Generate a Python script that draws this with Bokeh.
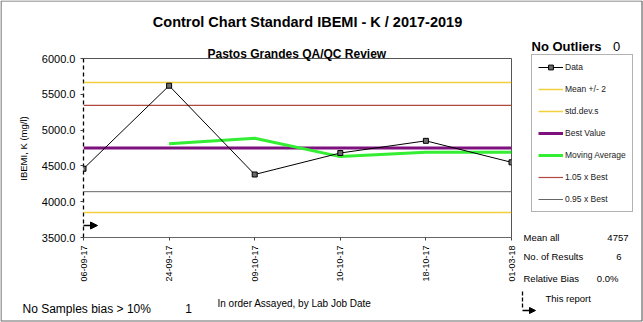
import math
import numpy as np
from bokeh.plotting import figure
from bokeh.models import (FixedTicker, NumeralTickFormatter, Label, Legend, LegendItem,
                          Arrow, NormalHead, Range1d)
from bokeh.embed import file_html
from bokeh.resources import INLINE

# ---------------- data ----------------
dates = ["06-09-17", "24-09-17", "09-10-17", "10-10-17", "18-10-17", "01-03-18"]
values = [4460, 5620, 4380, 4680, 4850, 4550]
moving_average = [np.nan, 4810, 4885, 4630, 4690, 4690]
best_value = 4750
upper_best_line = 5345   # "1.05 x Best" line as drawn
lower_best_line = 4140   # "0.95 x Best" line as drawn
y_ticks = [3500, 4000, 4500, 5000, 5500, 6000]
relative_bias = 0.0
outliers = 0
samples_bias_gt10 = 1

mean_all = float(np.mean(values))
sd = float(np.std(values, ddof=1))
upper_2sd = mean_all + 2 * sd
lower_2sd = mean_all - 2 * sd

xs = list(range(len(dates)))
x_span = [xs[0], xs[-1]]

FONT = "Liberation Sans"
W, H = 643, 322
FL, FR, FT, FB = 83, 511, 58, 237  # frame edges in canvas px

C_YEL = "#f2cf3c"
C_BRN = "#b0483e"
C_GRY = "#666666"
C_PUR = "#7d117d"
C_GRN = "#33ee33"
C_MRK = "#6a6a6a"

# ---------------- background canvas (texts, legend, frame decorations) ----------------
bg = figure(width=W, height=H, output_backend="svg", toolbar_location=None,
            x_range=Range1d(0, W), y_range=Range1d(H, 0), min_border=0,
            x_axis_location=None, y_axis_location=None)
bg.outline_line_color = None
bg.background_fill_color = "white"
bg.border_fill_color = "white"
bg.grid.visible = False

# outer border
bg.quad(left=[0.5], right=[W - 1.5], top=[0.5], bottom=[H - 1.5], fill_color=None,
        line_color="#666666", line_width=1.2)
# frame top / right edges
bg.segment(x0=[FL], y0=[FT], x1=[FR], y1=[FT], line_color="#555555", line_width=1)
bg.segment(x0=[FR], y0=[FT], x1=[FR], y1=[FB], line_color="#555555", line_width=1)
# left dashed "this report" marker
bg.segment(x0=[FL], y0=[FT], x1=[FL], y1=[FB], line_color="black", line_width=1.3,
           line_dash="4 3")
bg.add_layout(Arrow(x_start=FL, y_start=225, x_end=97, y_end=225, line_color="black",
                    line_width=1.3, end=NormalHead(size=7, fill_color="black",
                                                   line_color="black")))
# "this report" symbol in side panel
bg.segment(x0=[522], y0=[291], x1=[522], y1=[309], line_color="black", line_width=1.3,
           line_dash="4 2")
bg.add_layout(Arrow(x_start=522, y_start=310, x_end=535, y_end=310, line_color="black",
                    line_width=1.3, end=NormalHead(size=6, fill_color="black",
                                                   line_color="black")))

# legend proxies (styles only; no visible data)
nan2 = [np.nan, np.nan]
lp_dl = bg.line(nan2, nan2, line_color="black", line_width=1)
lp_dp = bg.scatter(nan2, nan2, marker="square", size=5, fill_color=C_MRK, line_color="black")
lp_up = bg.line(nan2, nan2, line_color=C_YEL, line_width=1.5)
lp_lo = bg.line(nan2, nan2, line_color=C_YEL, line_width=1.5)
lp_best = bg.line(nan2, nan2, line_color=C_PUR, line_width=3)
lp_ma = bg.line(nan2, nan2, line_color=C_GRN, line_width=3)
lp_105 = bg.line(nan2, nan2, line_color=C_BRN, line_width=1.2)
lp_095 = bg.line(nan2, nan2, line_color=C_GRY, line_width=1)
items = [
    LegendItem(label="Data", renderers=[lp_dl, lp_dp]),
    LegendItem(label="Mean +/- 2", renderers=[lp_up]),
    LegendItem(label="std.dev.s", renderers=[lp_lo]),
    LegendItem(label="Best Value", renderers=[lp_best]),
    LegendItem(label="Moving Average", renderers=[lp_ma]),
    LegendItem(label="1.05 x Best", renderers=[lp_105]),
    LegendItem(label="0.95 x Best", renderers=[lp_095]),
]
leg = Legend(items=items, location=(531, H - 212), orientation="vertical",
             label_text_font=FONT, label_text_font_size="8.5px", label_text_color="#222222",
             glyph_width=25, glyph_height=12, label_height=12, spacing=10, padding=6,
             margin=0, label_standoff=2, border_line_color="#666666", border_line_width=1,
             background_fill_color="white", background_fill_alpha=1.0)
bg.add_layout(leg, "center")


def lab(text, X, Y, size, bold=False, align="left", angle=0.0, color="black"):
    bg.add_layout(Label(x=X, y=H - Y, x_units="screen", y_units="screen", text=text,
                        text_font=FONT, text_font_size=size,
                        text_font_style="bold" if bold else "normal",
                        text_align=align, text_baseline="middle", angle=angle,
                        text_color=color))


lab("Control Chart Standard IBEMI - K / 2017-2019", 307, 21, "14.5px", bold=True, align="center")
lab("Pastos Grandes  QA/QC Review", 298, 53, "12px", bold=True, align="center")
lab("No Outliers", 531, 46, "13px", bold=True)
lab(f"{outliers}", 616, 46, "13px", align="center")
lab("IBEMI, K (mg/l)", 23, 148, "9.5px", align="center", angle=math.pi / 2)
lab("No Samples bias > 10%", 22, 308, "12px")
lab(f"{samples_bias_gt10}", 188, 308, "12px", align="center")
lab("In order Assayed, by Lab Job Date", 217, 303, "10px")
lab("Mean all", 523, 237, "9.5px")
lab(f"{mean_all:.0f}", 628, 237, "9.5px", align="right")
lab("No. of Results", 523, 256, "9.5px")
lab(f"{len(values)}", 621, 256, "9.5px", align="right")
lab("Relative  Bias", 523, 278, "9.5px")
lab(f"{relative_bias:.1f}%", 618, 278, "9.5px", align="right")
lab("This report", 545, 298, "9.5px")

# ---------------- main chart (transparent, overlaid on the background) ----------------
p = figure(width=W, height=H, output_backend="svg", toolbar_location=None,
           x_range=Range1d(xs[0], xs[-1]), y_range=Range1d(y_ticks[0], y_ticks[-1]),
           min_border_left=FL, min_border_right=W - FR, min_border_top=FT,
           min_border_bottom=H - FB)
p.styles = {"position": "absolute", "left": "0px", "top": "0px"}
p.background_fill_color = None
p.border_fill_color = None
p.outline_line_color = None
p.xgrid.visible = False
p.ygrid.visible = False

p.yaxis.ticker = FixedTicker(ticks=y_ticks)
p.yaxis.formatter = NumeralTickFormatter(format="0.0")
p.yaxis.major_label_text_font = FONT
p.yaxis.major_label_text_font_size = "11px"
p.yaxis.major_label_text_color = "black"
p.yaxis.axis_line_color = None
p.yaxis.major_tick_out = 3
p.yaxis.major_tick_in = 0
p.yaxis.major_tick_line_color = "#444444"
p.yaxis.minor_tick_line_color = None
p.yaxis.major_label_standoff = 5

p.xaxis.ticker = FixedTicker(ticks=xs)
p.xaxis.major_label_overrides = {i: d for i, d in zip(xs, dates)}
p.xaxis.major_label_orientation = math.pi / 2
p.xaxis.major_label_text_font = FONT
p.xaxis.major_label_text_font_size = "9px"
p.xaxis.major_label_text_color = "black"
p.xaxis.axis_line_color = "#666666"
p.xaxis.major_tick_out = 3
p.xaxis.major_tick_in = 0
p.xaxis.major_tick_line_color = "#444444"
p.xaxis.minor_tick_line_color = None
p.xaxis.major_label_standoff = 5

p.line(x_span, [upper_2sd] * 2, line_color=C_YEL, line_width=1.5)
p.line(x_span, [lower_2sd] * 2, line_color=C_YEL, line_width=1.5)
p.line(x_span, [upper_best_line] * 2, line_color=C_BRN, line_width=1.2)
p.line(x_span, [lower_best_line] * 2, line_color=C_GRY, line_width=1)
p.line(x_span, [best_value] * 2, line_color=C_PUR, line_width=3)
p.line(xs, moving_average, line_color=C_GRN, line_width=3)
p.line(xs, values, line_color="black", line_width=1)
p.scatter(xs, values, marker="square", size=5, fill_color=C_MRK,
          line_color="black", line_width=1)

open("out.html", "w").write(file_html([bg, p], INLINE))
